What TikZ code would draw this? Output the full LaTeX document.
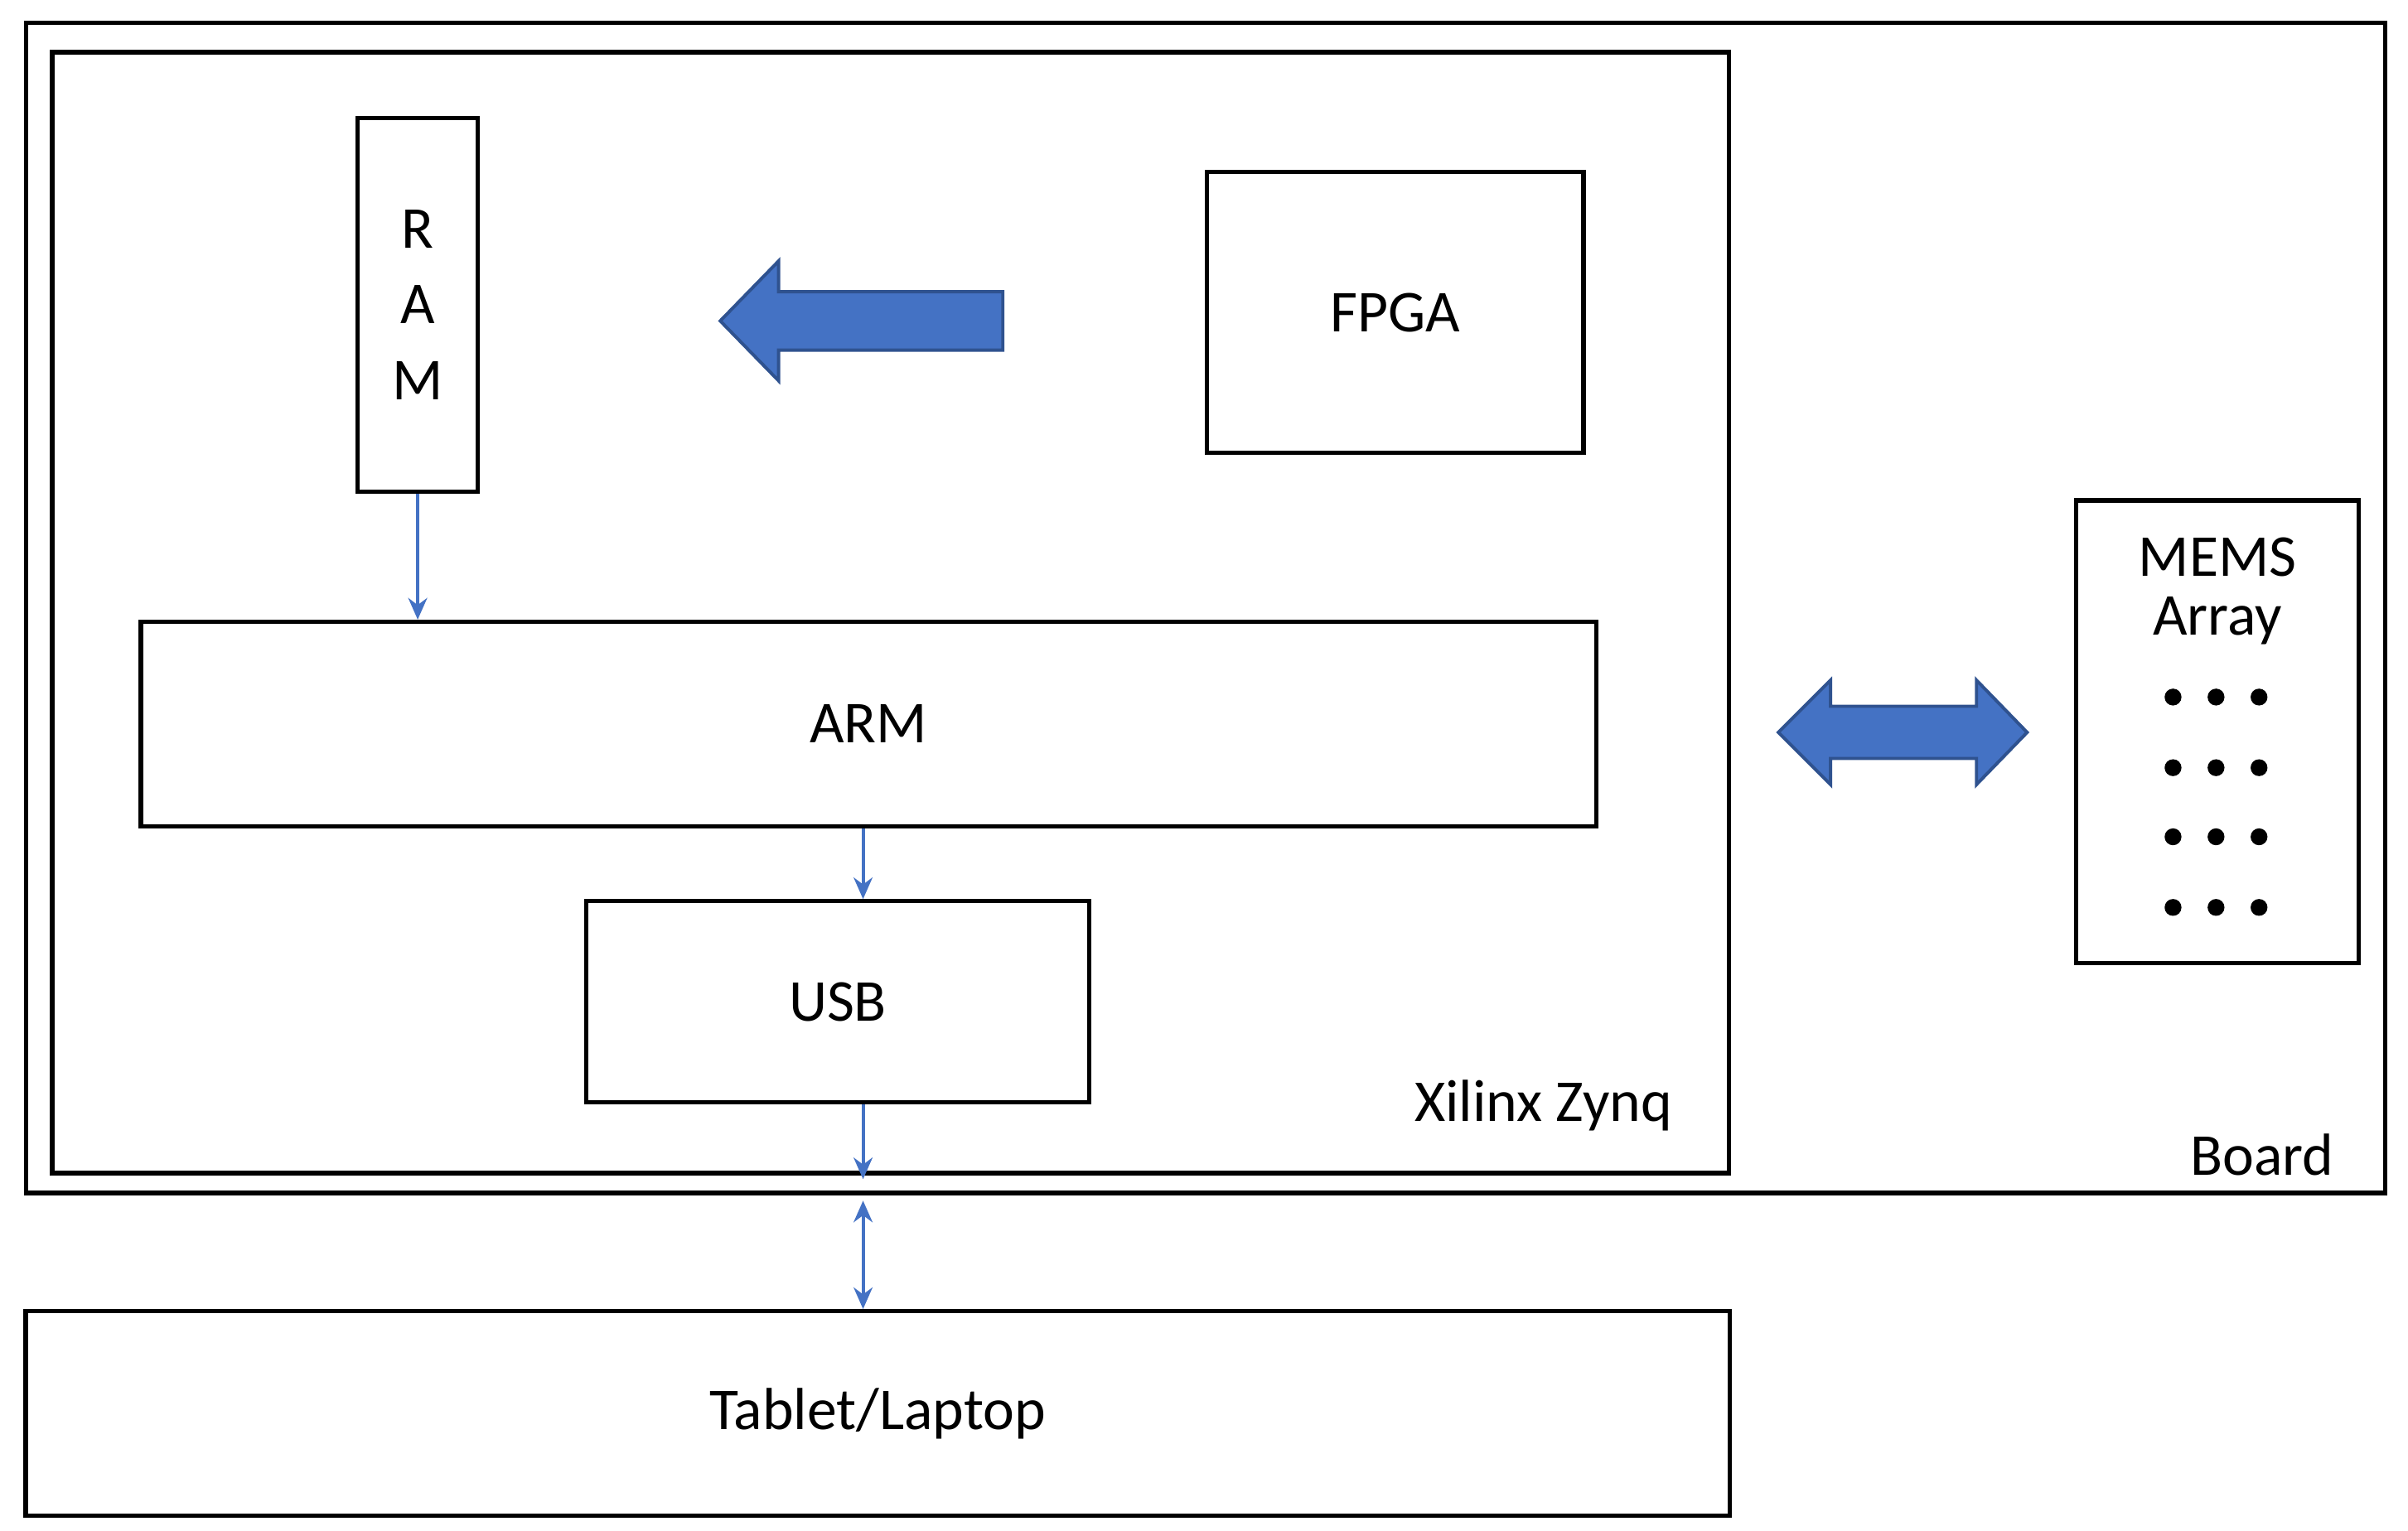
\documentclass[tikz,border=0pt]{standalone}
\usepackage{fontspec}
\setmainfont{Carlito}
\usetikzlibrary{arrows.meta}
\definecolor{ablue}{HTML}{4472C4}
\definecolor{aedge}{HTML}{2F528F}
\begin{document}
\begin{tikzpicture}[x=0.01cm,y=-0.01cm,
  box/.style={draw=black,line width=0.8pt},
  lbl/.style={font=\fontsize{11}{13}\selectfont},
  thin/.style={draw=ablue,line width=0.6pt,-{Stealth[length=4pt,width=3.5pt]}},
  big/.style={fill=ablue,draw=aedge,line width=0.6pt}]
\useasboundingbox (0,0) rectangle (1568,997);
\draw[box] (17,15) rectangle (1553,777);
\node[lbl] (boardl) at (1473,752) {Board};
\draw[box] (34,34) rectangle (1126,764);
\node[lbl] (zynql) at (1005,720) {Xilinx Zynq};
\node[box,minimum width=0.78cm,minimum height=2.43cm,align=center,lbl] (ram) at (272,198.5) {R\\[1pt]A\\[1pt]M};
\node[box,minimum width=2.45cm,minimum height=1.83cm,lbl] (fpga) at (908.5,203.5) {FPGA};
\node[box,minimum width=9.47cm,minimum height=1.33cm,lbl] (arm) at (565.5,471.5) {ARM};
\node[box,minimum width=3.27cm,minimum height=1.31cm,lbl] (usb) at (545.5,652.5) {USB};
\node[box,minimum width=11.09cm,minimum height=1.33cm,lbl] (tab) at (571.5,920.5) {Tablet/Laptop};
\node[box,minimum width=1.84cm,minimum height=3.01cm] (mems) at (1444,476.5) {};
\node[lbl,align=center] (memsl) at (1444,385) {MEMS\\[-2pt]Array};
\foreach \y in {454,500,545,591}\foreach \x in {1415,1443,1471}\fill (\x,\y) circle (5.5);
% big arrows
\draw[big] (653,190) -- (507,190) -- (507,170) -- (469,209) -- (507,248) -- (507,228) -- (653,228) -- cycle;
\draw[big] (1158,477) -- (1192,443) -- (1192,460) -- (1287,460) -- (1287,443) -- (1320,477) -- (1287,511) -- (1287,494) -- (1192,494) -- (1192,511) -- cycle;
% thin connectors
\coordinate (c1) at (562,768);
\coordinate (c2) at (562,782);
\draw[thin] (ram.south) -- (ram.south |- arm.north);
\draw[thin] (arm.south -| 562,0) -- (usb.north -| 562,0);
\draw[thin] (usb.south -| 562,0) -- (c1);
\draw[thin,{Stealth[length=4pt,width=3.5pt]}-{Stealth[length=4pt,width=3.5pt]}] (c2) -- (tab.north -| 562,0);
\end{tikzpicture}
\end{document}
